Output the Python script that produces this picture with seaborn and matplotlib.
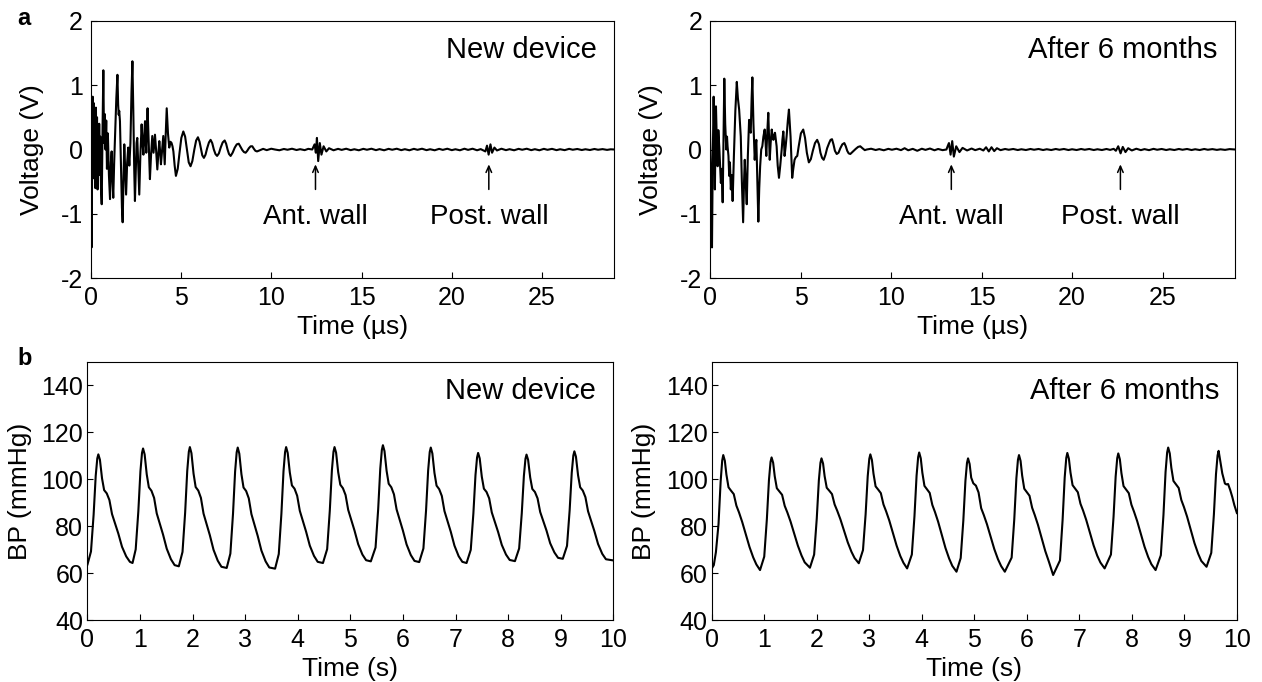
import numpy as np
import pandas as pd
import matplotlib
matplotlib.use("Agg")
import matplotlib.pyplot as plt
import seaborn as sns

# ---------------- ultrasound echo traces (time in us, voltage in V) ----------------
echo_new_t = [0.00, 0.03, 0.05, 0.08, 0.11, 0.14, 0.17, 0.20, 0.23, 0.26, 0.29, 0.32,
              0.35, 0.38, 0.41, 0.44, 0.47, 0.50, 0.53, 0.57, 0.61, 0.66, 0.70, 0.74,
              0.78, 0.82, 0.86, 0.90, 0.95, 1.01, 1.07, 1.12, 1.16, 1.21, 1.25, 1.30,
              1.36, 1.42, 1.48, 1.52, 1.55, 1.58, 1.62, 1.68, 1.73, 1.77, 1.82, 1.86,
              1.91, 1.96, 2.02, 2.08, 2.14, 2.20, 2.26, 2.31, 2.36, 2.41, 2.45, 2.50,
              2.54, 2.58, 2.63, 2.69, 2.75, 2.82, 2.87, 2.92, 2.97, 3.01, 3.05, 3.08,
              3.12, 3.15, 3.20, 3.24, 3.28, 3.34, 3.41, 3.45, 3.48, 3.52, 3.56, 3.62,
              3.69, 3.75, 3.80, 3.85, 3.89, 3.96, 4.02, 4.06, 4.10, 4.15, 4.21, 4.28,
              4.35, 4.42, 4.48, 4.53, 4.58, 4.65, 4.72, 4.82, 4.92, 5.02, 5.13, 5.23,
              5.33, 5.43, 5.53, 5.63, 5.74, 5.84, 5.94, 6.03, 6.10, 6.18, 6.27, 6.36,
              6.45, 6.55, 6.64, 6.73, 6.82, 6.91, 7.00, 7.10, 7.20, 7.31, 7.42, 7.50,
              7.58, 7.66, 7.75, 7.86, 7.98, 8.09, 8.20, 8.30, 8.40, 8.49, 8.58, 8.67,
              8.76, 8.86, 8.95, 9.04, 9.12, 9.21, 9.30, 9.55, 9.75, 10.0, 10.2, 10.45,
              10.7, 10.9, 11.15, 11.4, 11.6, 11.85, 12.05, 12.27, 12.40, 12.47, 12.53,
              12.60, 12.69, 12.78, 12.90, 13.05, 13.2, 13.45, 13.7, 13.9, 14.15, 14.4,
              14.6, 14.85, 15.1, 15.3, 15.55, 15.8, 16.0, 16.25, 16.5, 16.7, 16.95,
              17.2, 17.4, 17.65, 17.9, 18.1, 18.35, 18.6, 18.8, 19.05, 19.3, 19.5,
              19.75, 20.0, 20.2, 20.45, 20.7, 20.9, 21.15, 21.4, 21.6, 21.78, 21.86,
              21.95, 22.04, 22.14, 22.23, 22.36, 22.5, 22.75, 23.0, 23.2, 23.45, 23.7,
              23.9, 24.15, 24.4, 24.6, 24.85, 25.1, 25.3, 25.55, 25.8, 26.0, 26.25,
              26.5, 26.7, 26.95, 27.2, 27.4, 27.65, 27.9, 28.1, 28.35, 28.6, 28.8, 29.0]
echo_new_v = [0.30, -0.40, -1.52, -0.20, 0.82, -0.10, 0.72, -0.45, 0.60, -0.60, 0.65, -0.30,
              0.50, -0.62, 0.35, -0.40, 0.40, -0.20, 0.20, -0.60, -0.85, 0.40, 1.23, 0.10,
              0.55, 0.00, 0.45, -0.30, 0.25, -0.40, -0.77, -0.20, -0.03, -0.50, -0.75, -0.20,
              0.30, 0.80, 1.16, 0.70, 0.54, 0.60, 0.44, -0.30, -0.90, -1.13, -0.40, 0.08,
              -0.30, -0.70, -0.20, 0.03, -0.25, 0.10, 0.90, 1.37, 0.60, -0.30, -0.80, -0.30,
              0.10, 0.18, -0.20, -0.70, -0.10, 0.39, 0.10, -0.08, 0.25, 0.44, 0.10, -0.05,
              0.40, 0.64, 0.20, -0.20, -0.46, -0.10, 0.21, 0.05, -0.05, 0.10, 0.23, 0.00,
              -0.31, -0.05, 0.13, -0.05, -0.23, 0.00, 0.21, 0.00, -0.23, 0.20, 0.64, 0.25,
              0.03, 0.12, 0.10, 0.05, -0.03, -0.25, -0.41, -0.30, -0.05, 0.18, 0.28, 0.20,
              0.00, -0.20, -0.26, -0.18, 0.00, 0.14, 0.19, 0.12, 0.02, -0.09, -0.13, -0.08,
              0.02, 0.11, 0.15, 0.10, 0.00, -0.07, -0.10, -0.06, 0.03, 0.11, 0.14, 0.09,
              0.00, -0.07, -0.10, -0.05, 0.03, 0.08, 0.09, 0.04, -0.01, -0.04, -0.05, -0.02,
              0.02, 0.05, 0.05, 0.01, -0.02, -0.03, -0.02, 0.010, -0.010, 0.012, 0.000, -0.012,
              0.008, -0.004, 0.012, -0.008, 0.005, -0.010, 0.010, 0.00, 0.08, -0.05, 0.18,
              -0.18, 0.10, -0.08, 0.05, -0.03, 0.02, -0.012, 0.010, -0.006, 0.012, -0.010,
              0.004, -0.012, 0.010, -0.004, 0.012, -0.010, 0.006, -0.012, 0.010, -0.004, 0.012,
              -0.010, 0.005, -0.012, 0.010, -0.005, 0.012, -0.010, 0.004, -0.012, 0.010, -0.006,
              0.012, -0.010, 0.004, -0.012, 0.012, -0.006, 0.012, -0.012, 0.006, -0.02, -0.03,
              0.06, -0.08, 0.08, -0.05, 0.03, -0.015, 0.012, -0.010, 0.005, -0.012, 0.010,
              -0.004, 0.012, -0.010, 0.005, -0.012, 0.010, -0.005, 0.010, -0.010, 0.004, -0.010,
              0.010, -0.004, 0.008, -0.008, 0.004, -0.008, 0.008, -0.004, 0.006, -0.006, 0.003, 0.0]

echo_old_t = [0.00, 0.04, 0.08, 0.11, 0.15, 0.20, 0.24, 0.27, 0.30, 0.33, 0.37, 0.42,
              0.46, 0.51, 0.55, 0.60, 0.65, 0.70, 0.75, 0.79, 0.84, 0.90, 0.94, 0.97,
              1.02, 1.06, 1.10, 1.15, 1.20, 1.25, 1.32, 1.40, 1.48, 1.54, 1.61, 1.66,
              1.70, 1.76, 1.83, 1.88, 1.92, 1.97, 2.03, 2.09, 2.16, 2.20, 2.25, 2.30,
              2.34, 2.40, 2.47, 2.52, 2.56, 2.61, 2.67, 2.72, 2.77, 2.83, 2.89, 2.95,
              3.02, 3.07, 3.11, 3.16, 3.22, 3.26, 3.30, 3.35, 3.41, 3.46, 3.50, 3.55,
              3.59, 3.64, 3.68, 3.74, 3.81, 3.88, 3.96, 4.00, 4.05, 4.09, 4.12, 4.18,
              4.23, 4.30, 4.36, 4.41, 4.45, 4.50, 4.54, 4.60, 4.67, 4.74, 4.82, 4.90,
              5.02, 5.15, 5.25, 5.35, 5.46, 5.57, 5.68, 5.80, 5.92, 6.02, 6.10, 6.19,
              6.28, 6.38, 6.47, 6.58, 6.66, 6.74, 6.82, 6.90, 7.00, 7.10, 7.20, 7.31,
              7.42, 7.50, 7.58, 7.66, 7.75, 7.90, 8.05, 8.18, 8.30, 8.42, 8.55, 8.66,
              8.9, 9.15, 9.35, 9.6, 9.85, 10.05, 10.3, 10.55, 10.75, 10.95, 11.2, 11.45,
              11.7, 11.9, 12.15, 12.4, 12.6, 12.85, 13.06, 13.14, 13.20, 13.29, 13.38,
              13.47, 13.60, 13.78, 13.95, 14.2, 14.45, 14.65, 14.9, 15.1, 15.25, 15.4,
              15.55, 15.7, 15.85, 16.05, 16.3, 16.5, 16.75, 17.0, 17.2, 17.45, 17.7,
              17.9, 18.15, 18.4, 18.6, 18.85, 19.1, 19.3, 19.55, 19.8, 20.0, 20.25,
              20.5, 20.7, 20.95, 21.2, 21.4, 21.65, 21.9, 22.1, 22.3, 22.42, 22.55,
              22.68, 22.80, 22.95, 23.1, 23.3, 23.55, 23.8, 24.0, 24.25, 24.5, 24.7,
              24.95, 25.2, 25.4, 25.65, 25.9, 26.1, 26.35, 26.6, 26.8, 27.05, 27.3,
              27.5, 27.75, 28.0, 28.2, 28.45, 28.7, 29.0]
echo_old_v = [0.30, -0.30, -0.80, -1.52, -0.20, 0.82, 0.10, -0.62, 0.10, 0.67, 0.20, -0.26,
              0.30, 0.05, -0.20, -0.52, -0.30, -0.82, 0.30, 1.10, 0.40, 0.00, 0.20, 0.05,
              -0.10, -0.41, -0.20, -0.62, -0.40, -0.80, -0.10, 0.60, 1.05, 0.80, 0.62, 0.40,
              0.20, -0.50, -1.13, -0.50, -0.16, -0.50, -0.85, -0.10, 0.46, 0.30, 0.26, 0.80,
              1.12, 0.40, -0.16, 0.05, 0.15, -0.40, -1.12, -0.60, -0.26, 0.00, 0.05, 0.20,
              0.31, 0.10, -0.10, 0.25, 0.57, 0.20, -0.16, 0.10, 0.31, 0.20, 0.15, 0.22,
              0.26, 0.15, 0.05, -0.25, -0.44, -0.25, 0.00, 0.15, 0.28, 0.10, -0.10, 0.05,
              0.20, 0.45, 0.62, 0.40, 0.20, -0.15, -0.44, -0.30, -0.16, -0.12, -0.10, 0.05,
              0.25, 0.31, 0.18, -0.05, -0.20, -0.15, -0.02, 0.10, 0.15, 0.08, -0.05, -0.13,
              -0.16, -0.08, 0.02, 0.10, 0.15, 0.16, 0.08, -0.02, -0.07, -0.05, 0.02, 0.08,
              0.10, 0.05, -0.02, -0.06, -0.07, -0.03, 0.01, 0.04, 0.05, 0.02, -0.01, 0.00,
              0.012, -0.008, 0.006, -0.012, 0.010, -0.004, 0.012, -0.010, 0.020, -0.012, 0.010, -0.020,
              0.012, -0.006, 0.015, -0.012, 0.008, -0.010, 0.00, 0.06, 0.10, -0.08, 0.13,
              -0.11, 0.05, -0.04, 0.025, -0.015, 0.015, -0.010, 0.012, -0.015, 0.035, -0.03,
              0.035, -0.025, 0.02, -0.010, 0.008, -0.004, 0.008, -0.008, 0.004, -0.008, 0.008,
              -0.004, 0.008, -0.008, 0.004, -0.008, 0.008, -0.004, 0.008, -0.008, 0.004, -0.008,
              0.008, -0.004, 0.008, -0.008, 0.004, -0.008, 0.008, -0.006, 0.010, -0.02, 0.05,
              -0.06, 0.04, -0.04, 0.02, -0.015, 0.012, -0.010, 0.006, -0.010, 0.010, -0.004,
              0.008, -0.008, 0.004, -0.008, 0.008, -0.004, 0.008, -0.008, 0.004, -0.008, 0.008,
              -0.004, 0.006, -0.006, 0.003, -0.006, 0.006, 0.0]

# wall echo markers: (arrow time in us, label)
walls_new = [(12.45, "Ant. wall"), (22.05, "Post. wall")]
walls_old = [(13.33, "Ant. wall"), (22.67, "Post. wall")]

# ---------------- blood pressure traces (time in s, BP in mmHg) ----------------
bp_new_t = [0.00, 0.07, 0.12, 0.16, 0.19, 0.21,
            0.24, 0.28, 0.32, 0.37, 0.42, 0.47, 0.53, 0.59, 0.66, 0.74, 0.81, 0.86,
            0.92, 0.97, 1.01, 1.04, 1.06,
            1.09, 1.13, 1.17, 1.22, 1.27, 1.32, 1.38, 1.44, 1.51, 1.59, 1.66, 1.74,
            1.81, 1.86, 1.90, 1.93, 1.95,
            1.98, 2.02, 2.06, 2.11, 2.16, 2.21, 2.27, 2.33, 2.40, 2.48, 2.55, 2.65,
            2.72, 2.77, 2.81, 2.84, 2.86,
            2.89, 2.93, 2.97, 3.02, 3.07, 3.12, 3.18, 3.24, 3.31, 3.39, 3.46, 3.57,
            3.64, 3.69, 3.73, 3.76, 3.78,
            3.81, 3.85, 3.89, 3.94, 3.99, 4.04, 4.10, 4.16, 4.23, 4.31, 4.38, 4.48,
            4.56, 4.61, 4.65, 4.68, 4.70,
            4.73, 4.77, 4.81, 4.86, 4.91, 4.96, 5.02, 5.08, 5.15, 5.23, 5.30, 5.39,
            5.48, 5.53, 5.57, 5.60, 5.62,
            5.65, 5.69, 5.73, 5.78, 5.83, 5.88, 5.94, 6.00, 6.07, 6.15, 6.22, 6.31,
            6.39, 6.44, 6.48, 6.51, 6.53,
            6.56, 6.60, 6.64, 6.69, 6.74, 6.79, 6.85, 6.91, 6.98, 7.06, 7.13, 7.21,
            7.29, 7.34, 7.38, 7.41, 7.43,
            7.46, 7.50, 7.54, 7.59, 7.64, 7.69, 7.75, 7.81, 7.88, 7.96, 8.03, 8.13,
            8.21, 8.26, 8.30, 8.33, 8.35,
            8.38, 8.42, 8.46, 8.51, 8.56, 8.61, 8.67, 8.73, 8.80, 8.88, 8.95, 9.04,
            9.12, 9.17, 9.21, 9.24, 9.26,
            9.29, 9.33, 9.37, 9.42, 9.47, 9.52, 9.58, 9.64, 9.71, 9.79, 9.86, 10.0]
bp_new_v = [63.5, 69.3, 84.9, 101.5, 108.9, 110.6,
            108.3, 100.4, 95.4, 94.0, 91.2, 85.2, 81.0, 76.9, 71.3, 67.2, 64.9, 64.4,
            70.2, 86.3, 103.4, 111.2, 113.1,
            110.6, 102.1, 96.6, 95.1, 92.1, 85.5, 81.0, 76.5, 70.5, 66.0, 63.5, 63.0,
            69.1, 85.8, 103.6, 111.7, 113.7,
            111.1, 102.4, 96.7, 95.2, 92.1, 85.4, 80.8, 76.2, 70.0, 65.4, 62.8, 62.3,
            68.4, 85.3, 103.3, 111.5, 113.5,
            110.9, 102.2, 96.5, 95.0, 91.9, 85.2, 80.5, 75.9, 69.7, 65.1, 62.5, 62.0,
            68.2, 85.3, 103.4, 111.6, 113.7,
            111.2, 102.9, 97.4, 96.0, 93.0, 86.6, 82.1, 77.7, 71.8, 67.4, 64.9, 64.4,
            70.3, 86.6, 103.8, 111.7, 113.7,
            111.3, 103.0, 97.7, 96.2, 93.3, 87.0, 82.6, 78.2, 72.4, 68.0, 65.6, 65.1,
            71.0, 87.3, 104.6, 112.5, 114.5,
            112.0, 103.6, 98.1, 96.6, 93.6, 87.2, 82.7, 78.2, 72.3, 67.8, 65.3, 64.8,
            70.6, 86.7, 103.8, 111.6, 113.5,
            111.0, 102.7, 97.3, 95.8, 92.9, 86.5, 82.1, 77.7, 71.8, 67.3, 64.9, 64.4,
            70.0, 85.5, 101.8, 109.3, 111.2,
            108.9, 101.1, 96.0, 94.6, 91.9, 85.9, 81.8, 77.6, 72.1, 68.0, 65.7, 65.2,
            70.6, 85.6, 101.4, 108.7, 110.5,
            108.3, 100.8, 95.9, 94.6, 91.9, 86.1, 82.1, 78.2, 72.8, 68.9, 66.6, 66.2,
            71.7, 86.8, 102.8, 110.1, 111.9,
            109.6, 101.7, 96.6, 95.2, 92.4, 86.4, 82.2, 78.0, 72.5, 68.3, 66.0, 65.5]

bp_old_t = [0.00, 0.04, 0.08, 0.13, 0.17, 0.20, 0.22,
            0.25, 0.28, 0.32, 0.37, 0.42, 0.47, 0.52, 0.58, 0.65, 0.72, 0.79, 0.85, 0.92,
            1.00, 1.05, 1.09, 1.12, 1.14,
            1.17, 1.20, 1.24, 1.29, 1.34, 1.39, 1.44, 1.50, 1.57, 1.64, 1.71, 1.77, 1.87,
            1.95, 2.00, 2.04, 2.07, 2.09,
            2.12, 2.15, 2.19, 2.24, 2.29, 2.34, 2.39, 2.45, 2.52, 2.59, 2.66, 2.72, 2.80,
            2.88, 2.93, 2.97, 3.00, 3.02,
            3.05, 3.08, 3.12, 3.17, 3.22, 3.27, 3.32, 3.38, 3.45, 3.52, 3.59, 3.65, 3.72,
            3.81, 3.86, 3.90, 3.93, 3.95,
            3.98, 4.01, 4.05, 4.10, 4.15, 4.20, 4.25, 4.31, 4.38, 4.45, 4.52, 4.58, 4.66,
            4.74, 4.79, 4.83, 4.86, 4.88,
            4.91, 4.94, 4.98, 5.03, 5.08, 5.13, 5.18, 5.24, 5.31, 5.38, 5.45, 5.51, 5.58,
            5.71, 5.76, 5.80, 5.83, 5.85,
            5.88, 5.91, 5.95, 6.00, 6.05, 6.10, 6.15, 6.21, 6.28, 6.35, 6.42, 6.50,
            6.63, 6.68, 6.72, 6.75, 6.77,
            6.80, 6.83, 6.87, 6.92, 6.97, 7.02, 7.07, 7.13, 7.20, 7.27, 7.34, 7.40, 7.48,
            7.60, 7.65, 7.69, 7.72, 7.74,
            7.77, 7.80, 7.84, 7.89, 7.94, 7.99, 8.04, 8.10, 8.17, 8.24, 8.31, 8.37, 8.45,
            8.55, 8.60, 8.64, 8.67, 8.69,
            8.72, 8.75, 8.79, 8.84, 8.89, 8.94, 8.99, 9.05, 9.12, 9.19, 9.26, 9.32, 9.42,
            9.51, 9.56, 9.60, 9.63, 9.65,
            9.68, 9.72, 9.77, 9.80, 9.83, 9.87, 9.91, 9.95, 10.0]
bp_old_v = [62.0, 63.5, 69.0, 81.0, 99.0, 108.0, 110.3,
            107.9, 102.0, 96.6, 95.1, 93.7, 88.8, 85.9, 81.9, 76.6, 71.2, 66.8, 63.8, 61.4,
            67.1, 83.0, 99.7, 107.4, 109.3,
            107.0, 101.3, 96.2, 94.8, 93.4, 88.7, 85.9, 82.1, 76.9, 71.8, 67.6, 64.7, 62.4,
            68.0, 83.3, 99.6, 107.0, 108.9,
            106.7, 101.3, 96.4, 95.1, 93.7, 89.3, 86.6, 83.0, 78.1, 73.2, 69.2, 66.5, 64.3,
            69.9, 85.1, 101.3, 108.7, 110.6,
            108.2, 102.4, 97.0, 95.6, 94.1, 89.3, 86.4, 82.5, 77.1, 71.8, 67.4, 64.5, 62.1,
            68.0, 84.3, 101.5, 109.4, 111.4,
            108.9, 102.8, 97.2, 95.7, 94.2, 89.1, 86.1, 82.0, 76.4, 70.8, 66.3, 63.2, 60.7,
            66.5, 82.4, 99.3, 107.0, 108.9,
            106.5, 100.7, 98.3, 97.3, 94.4, 87.7, 84.8, 80.9, 75.6, 70.3, 66.0, 63.1, 60.7,
            66.7, 83.0, 100.4, 108.3, 110.3,
            107.8, 101.6, 96.0, 94.5, 93.0, 87.9, 84.8, 80.7, 75.1, 69.5, 64.9, 59.3,
            65.5, 82.7, 100.8, 109.1, 111.2,
            108.7, 102.9, 97.5, 96.0, 94.5, 89.6, 86.7, 82.7, 77.3, 71.9, 67.5, 64.6, 62.1,
            68.0, 84.1, 101.2, 109.0, 111.0,
            108.5, 102.6, 97.1, 95.6, 94.1, 89.2, 86.2, 82.2, 76.8, 71.3, 66.9, 63.9, 61.4,
            67.7, 84.8, 103.1, 111.4, 113.5,
            111.0, 104.9, 99.3, 97.8, 96.3, 91.2, 88.2, 84.1, 78.5, 72.9, 68.4, 65.3, 62.8,
            68.7, 85.0, 102.2, 110.1, 112.1,
            108.0, 102.5, 98.2, 97.8, 98.0, 95.5, 92.5, 89.0, 85.5]

panel_titles = ["New device", "After 6 months"]
echo_xticks = [0, 5, 10, 15, 20, 25]
echo_yticks = [-2, -1, 0, 1, 2]
bp_xticks = list(range(0, 11))
bp_yticks = [40, 60, 80, 100, 120, 140]

# ---------------- style ----------------
sns.set_style("ticks", {
    "xtick.direction": "in", "ytick.direction": "in",
    "axes.edgecolor": "black", "axes.linewidth": 0.8,
    "text.color": "black", "axes.labelcolor": "black",
    "xtick.color": "black", "ytick.color": "black",
})
plt.rcParams["font.family"] = ["Liberation Sans", "DejaVu Sans"]
plt.rcParams["axes.unicode_minus"] = False
plt.rcParams["xtick.major.size"] = 4.5
plt.rcParams["ytick.major.size"] = 4.5
plt.rcParams["xtick.major.width"] = 0.8
plt.rcParams["ytick.major.width"] = 0.8
plt.rcParams["xtick.major.pad"] = 5.5

TICK_FS = 18
LABEL_FS = 19
TITLE_FS = 21
NOTE_FS = 20

W, H = 1262, 682
fig = plt.figure(figsize=(W / 100, H / 100), dpi=100)

def frac(left, top, right, bottom):
    return [left / W, 1 - bottom / H, (right - left) / W, (bottom - top) / H]

ax_a1 = fig.add_axes(frac(90.7, 20.7, 614.3, 278.3))
ax_a2 = fig.add_axes(frac(710.0, 20.7, 1235.0, 278.3))
ax_b1 = fig.add_axes(frac(87.3, 361.7, 613.3, 620.4))
ax_b2 = fig.add_axes(frac(711.7, 361.7, 1237.0, 620.4))

def draw_trace(ax, t, v):
    df = pd.DataFrame({"t": t, "v": v})
    sns.lineplot(data=df, x="t", y="v", ax=ax, color="black", linewidth=1.5,
                 estimator=None, sort=False)

def finish(ax, xlim, ylim, xticks, yticks, xlabel, ylabel, title, ypad, ylabelpad):
    ax.set_xlim(*xlim)
    ax.set_ylim(*ylim)
    ax.set_xticks(xticks)
    ax.set_yticks(yticks)
    ax.set_xticklabels([str(x) for x in xticks], fontsize=TICK_FS)
    ax.set_yticklabels([str(y) for y in yticks], fontsize=TICK_FS)
    ax.tick_params(axis="y", pad=ypad)
    ax.set_xlabel(xlabel, fontsize=LABEL_FS, labelpad=3.5)
    ax.set_ylabel(ylabel, fontsize=LABEL_FS, labelpad=ylabelpad)
    ax.tick_params(top=False, right=False)
    for s in ax.spines.values():
        s.set_visible(True)
        s.set_linewidth(0.8)
    ax.text(0.967, 0.855, title, transform=ax.transAxes, ha="right",
            va="baseline", fontsize=TITLE_FS)

for ax, t, v, walls, title in [(ax_a1, echo_new_t, echo_new_v, walls_new, panel_titles[0]),
                               (ax_a2, echo_old_t, echo_old_v, walls_old, panel_titles[1])]:
    draw_trace(ax, t, v)
    finish(ax, (0, 29), (-2, 2), echo_xticks, echo_yticks,
           "Time (\u00b5s)", "Voltage (V)", title, ypad=5.5, ylabelpad=12)
    for tw, name in walls:
        ax.annotate("", xy=(tw, -0.23), xytext=(tw, -0.62),
                    arrowprops=dict(arrowstyle="->,head_length=0.45,head_width=0.2",
                                    lw=1.1, color="black", shrinkA=0, shrinkB=0))
        ax.text(tw, -1.16, name, ha="center", va="baseline", fontsize=NOTE_FS)

for ax, t, v, title in [(ax_b1, bp_new_t, bp_new_v, panel_titles[0]),
                        (ax_b2, bp_old_t, bp_old_v, panel_titles[1])]:
    draw_trace(ax, t, v)
    finish(ax, (0, 10), (40, 150), bp_xticks, bp_yticks,
           "Time (s)", "BP (mmHg)", title, ypad=3, ylabelpad=7)

fig.text(17 / W, 1 - 25 / H, "a", fontsize=17, fontweight="bold", ha="left", va="baseline")
fig.text(17 / W, 1 - 365 / H, "b", fontsize=17, fontweight="bold", ha="left", va="baseline")

fig.savefig("out.png", dpi=100)
